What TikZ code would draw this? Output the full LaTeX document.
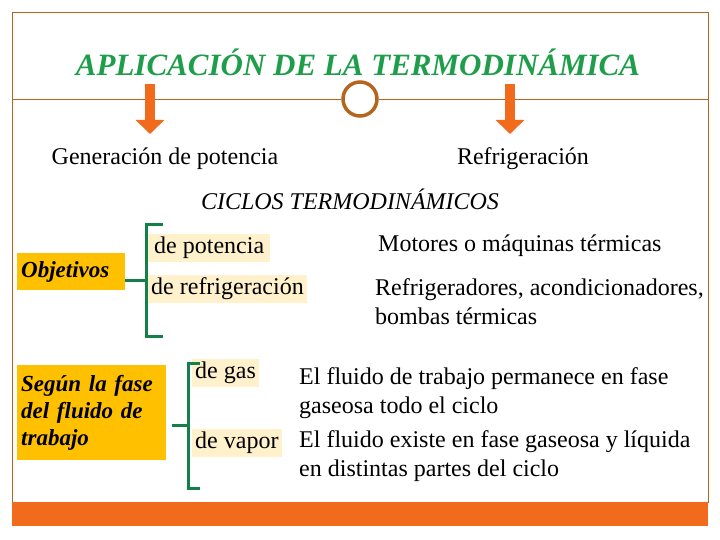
\documentclass[tikz,border=0pt]{standalone}
\usepackage{fontspec}
\setmainfont{Liberation Serif}
\usetikzlibrary{arrows.meta}
\definecolor{brn}{HTML}{B5651D}
\definecolor{org}{HTML}{F26B1D}
\definecolor{gold}{HTML}{FFC000}
\definecolor{cream}{HTML}{FFF1CC}
\definecolor{grn}{HTML}{1E9E4A}
\definecolor{bgrn}{HTML}{13804A}
\begin{document}
\begin{tikzpicture}[x=1pt,y=-1pt,
  txt/.style={font=\fontsize{24}{29}\selectfont, inner sep=0pt},
  gbox/.style={fill=gold, font=\fontsize{23}{27}\selectfont\bfseries\itshape, align=left, inner sep=4pt, anchor=north west, text width=#1, minimum height=0pt},
  cbox/.style={fill=cream, font=\fontsize{24}{29}\selectfont, inner sep=3pt, anchor=west},
  brk/.style={draw=bgrn, line width=3pt},
  farrow/.style={draw=org, line width=10pt, -{Triangle[length=14pt,width=28pt]}}]
\useasboundingbox (0,0) rectangle (720,540);
\fill[white] (0,0) rectangle (720,540);
\draw[brn, line width=0.8pt] (12,12) rectangle (708,502);
\fill[org] (12,502) rectangle (708,526);
\node[font=\fontsize{31}{34}\selectfont\bfseries\itshape, text=grn] (title) at (358,62) {APLICACIÓN DE LA TERMODINÁMICA};
\node[circle, draw=brn, line width=3.5pt, minimum size=34pt, inner sep=0pt] (circ) at (360,99) {};
\coordinate (lL) at (12,99);
\coordinate (lR) at (708,99);
\draw[brn, line width=0.8pt] (lL) -- (circ.west);
\draw[brn, line width=0.8pt] (circ.east) -- (lR);
\coordinate (a1s) at (150,84); \coordinate (a1e) at (150,134);
\coordinate (a2s) at (510,84); \coordinate (a2e) at (510,134);
\draw[farrow] (a1s) -- (a1e);
\draw[farrow] (a2s) -- (a2e);
\node[txt] (gen) at (165,159) {Generación de potencia};
\node[txt] (ref) at (523,159) {Refrigeración};
\node[font=\fontsize{24}{29}\selectfont\itshape, inner sep=0pt] (cic) at (350,199) {CICLOS TERMODINÁMICOS};
\node[gbox=100pt, minimum height=37pt] (obj) at (17,253) {Objetivos};
\node[gbox=141pt, minimum height=95pt] (seg) at (17,365) {Según la fase\\del fluido de\\trabajo};
\node[cbox, minimum width=122pt] (pot) at (148,248) {de potencia};
\node[cbox] (rfg) at (148,289) {de refrigeración};
\node[cbox] (gas) at (192,373) {de gas};
\node[cbox] (vap) at (192,443) {de vapor};
\node[txt, anchor=west] (mot) at (378,246) {Motores o máquinas térmicas};
\node[txt, anchor=north west, align=left] (refd) at (375,278) {Refrigeradores, acondicionadores,\\bombas térmicas};
\node[txt, anchor=north west, align=left] (gasd) at (299,367) {El fluido de trabajo permanece en fase\\gaseosa todo el ciclo};
\node[txt, anchor=north west, align=left] (vapd) at (299,430) {El fluido existe en fase gaseosa y líquida\\en distintas partes del ciclo};
\coordinate (b1t) at (163,225); \coordinate (b1b) at (163,336); \coordinate (b1m) at (146,280);
\draw[brk] (b1t) -- (146,225) -- (146,336) -- (b1b);
\draw[brk] (b1m) -- (obj.east |- b1m);
\coordinate (b2t) at (200,363); \coordinate (b2b) at (200,488); \coordinate (b2m) at (188,425);
\draw[brk] (b2t) -- (188,363) -- (188,488) -- (b2b);
\draw[brk] (b2m) -- (172,425);
\end{tikzpicture}
\end{document}
